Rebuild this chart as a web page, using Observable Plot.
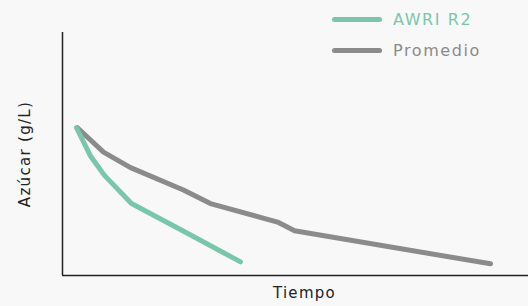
<!DOCTYPE html>
<html>
<head>
<meta charset="utf-8">
<script src="https://cdn.jsdelivr.net/npm/d3@7"></script>
<script src="https://cdn.jsdelivr.net/npm/@observablehq/plot@0.6"></script>
<style>
  html, body { margin: 0; padding: 0; background: #f8f8f8; }
  #wrap { position: relative; width: 528px; height: 306px; font-family: "DejaVu Sans", sans-serif; }
  .leg { position: absolute; left: 332px; display: flex; align-items: center; font-size: 16px; letter-spacing: 1.6px; }
  .leg .sw { width: 50px; height: 5px; border-radius: 3px; margin-right: 11px; }
</style>
</head>
<body>
<div id="wrap"></div>
<script>
const seriesNames = ["AWRI R2", "Promedio"];
const seriesColors = ["#79c7ab", "#8b8b8b"];
// time (days, arbitrary) and sugar (g/L)
const awriTime  = [0.60, 1.20, 1.80, 2.96, 5.24, 7.64];
const awriSugar = [152, 123, 103, 74, 45, 14];
const promTime  = [0.64, 1.76, 2.92, 5.19, 6.35, 9.23, 9.96, 18.37];
const promSugar = [152, 127, 111, 88, 74, 55, 46, 12];
const xLabel = "Tiempo";
const yLabel = "Azúcar (g/L)";

const data = [
  ...awriTime.map((t, i) => ({series: seriesNames[0], t, s: awriSugar[i]})),
  ...promTime.map((t, i) => ({series: seriesNames[1], t, s: promSugar[i]}))
];

const chart = Plot.plot({
  width: 528,
  height: 306,
  marginLeft: 62,
  marginRight: 0,
  marginTop: 32,
  marginBottom: 31,
  style: {background: "#f8f8f8", fontFamily: "DejaVu Sans, sans-serif"},
  x: {domain: [0, 20], axis: null},
  y: {domain: [0, 250], axis: null},
  color: {domain: seriesNames, range: seriesColors},
  marks: [
    Plot.line(data.filter(d => d.series === seriesNames[1]), {x: "t", y: "s", stroke: "series", strokeWidth: 5, strokeLinecap: "round", strokeLinejoin: "round"}),
    Plot.line(data.filter(d => d.series === seriesNames[0]), {x: "t", y: "s", stroke: "series", strokeWidth: 5, strokeLinecap: "round", strokeLinejoin: "round"}),
    Plot.ruleX([0], {stroke: "#222", strokeWidth: 1.5}),
    Plot.ruleY([0], {stroke: "#222", strokeWidth: 1.5}),
    Plot.text([xLabel], {frameAnchor: "bottom", textAnchor: "middle", dy: 22, dx: 9, fontSize: 15, fill: "#222", style: "letter-spacing:1.3px"}),
    Plot.text([yLabel], {frameAnchor: "left", textAnchor: "middle", dx: -37, rotate: -90, fontSize: 15, fill: "#222", style: "letter-spacing:1.3px"})
  ]
});
const wrap = document.getElementById("wrap");
wrap.appendChild(chart);
chart.querySelectorAll("text").forEach(t => t.setAttribute("letter-spacing", "1.3"));

const tops = [10, 41];
seriesNames.forEach((name, i) => {
  const row = document.createElement("div");
  row.className = "leg";
  row.style.top = tops[i] + "px";
  row.style.color = seriesColors[i];
  const sw = document.createElement("span");
  sw.className = "sw";
  sw.style.background = seriesColors[i];
  const tx = document.createElement("span");
  tx.textContent = name;
  row.appendChild(sw);
  row.appendChild(tx);
  wrap.appendChild(row);
});
</script>
</body>
</html>
